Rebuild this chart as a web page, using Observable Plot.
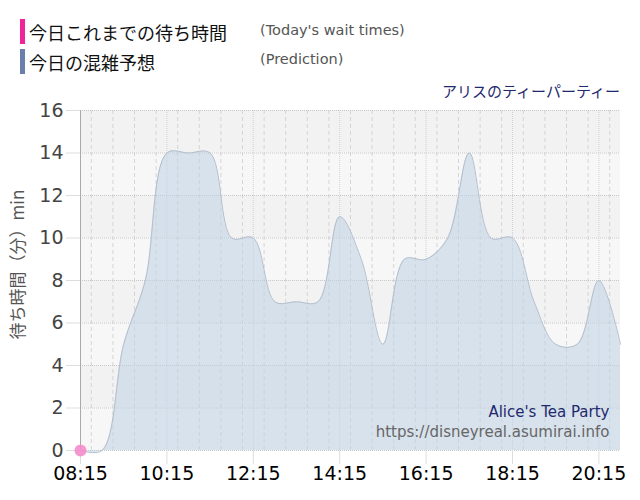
<!DOCTYPE html>
<html>
<head>
<meta charset="utf-8">
<script src="https://cdn.jsdelivr.net/npm/d3@7"></script>
<script src="https://cdn.jsdelivr.net/npm/@observablehq/plot@0.6"></script>
<style>
  html, body { margin: 0; padding: 0; background: #fff; }
  #wrap { position: relative; width: 640px; height: 500px; font-family: "DejaVu Sans", "Noto Sans CJK JP", sans-serif; }
  .leg { position: absolute; left: 20px; height: 25px; display: flex; align-items: center; }
  .bar { width: 5px; height: 25px; margin-right: 4px; }
  .jp { font-family: "Noto Sans CJK JP", sans-serif; font-size: 18px; color: #111; }
  .en { position: absolute; left: 260px; font-size: 14.5px; color: #555; }
  #sub { position: absolute; right: 20px; top: 80px; font-family: "Noto Sans CJK JP", sans-serif; font-size: 15px; color: #1f2a6e; }
  #chart { position: absolute; left: 0; top: 0; }
</style>
</head>
<body>
<div id="wrap">
  <div id="chart"></div>
  <div class="leg" style="top:19px"><div class="bar" style="background:#f0249a"></div><span class="jp">今日これまでの待ち時間</span></div>
  <div class="en" style="top:22px">(Today's wait times)</div>
  <div class="leg" style="top:49px"><div class="bar" style="background:#6a7fab"></div><span class="jp">今日の混雑予想</span></div>
  <div class="en" style="top:51px">(Prediction)</div>
  <div id="sub">アリスのティーパーティー</div>
</div>
<script>
const predTimes = ["08:15","08:45","09:15","09:45","10:15","10:45","11:15","11:45","12:15","12:45","13:15","13:45","14:15","14:45","15:15","15:45","16:15","16:45","17:15","17:45","18:15","18:45","19:15","19:45","20:15","20:45"];
const predValues = [0,0,5,8,14,14,14,10,10,7,7,7,11,9,5,9,9,10,14,10,10,7,5,5,8,5];
const todayTimes = ["08:15"];
const todayValues = [0];
const xTickLabels = ["08:15","10:15","12:15","14:15","16:15","18:15","20:15"];
const yTicks = [0,2,4,6,8,10,12,14,16];
const bandStarts = [0,2,4,6,8,10,12,14];
const domainTimes = ["08:15","20:45"];
const attraction = "Alice's Tea Party";
const site = "https://disneyreal.asumirai.info";

const t = s => { const [h,m] = s.split(":").map(Number); return new Date(Date.UTC(2024,0,1,h,m)); };
const pred = predTimes.map((s,i) => ({x: t(s), y: predValues[i]}));
const today = todayTimes.map((s,i) => ({x: t(s), y: todayValues[i]}));
const bands = bandStarts.map((v,i) => ({y1: v, y2: v + 2, fill: i % 2 === 0 ? "#f7f7f7" : "#f2f2f2"}));
const halfHours = d3.utcMinute.every(30).range(t("08:15"), new Date(+t("20:45") + 1));
const xTicks = xTickLabels.map(t);

const chart = Plot.plot({
  width: 640,
  height: 500,
  marginTop: 110,
  marginBottom: 50,
  marginLeft: 80,
  marginRight: 20,
  style: {fontFamily: "DejaVu Sans, Noto Sans CJK JP, sans-serif", background: "transparent"},
  x: {type: "utc", domain: domainTimes.map(t)},
  y: {domain: [0, 16]},
  marks: [
    Plot.rect(bands, {y1: "y1", y2: "y2", fill: "fill"}),
    Plot.ruleX(halfHours, {stroke: "#d4d4d4", strokeDasharray: "4,3"}),
    Plot.ruleX(xTicks, {stroke: "#c9d3de", strokeDasharray: "1,1"}),
    Plot.ruleY(yTicks, {stroke: "#c8c8c8", strokeDasharray: "1,1"}),
    Plot.areaY(pred, {x: "x", y: "y", curve: "catmull-rom", fill: "#c0d2e4", fillOpacity: 0.55}),
    Plot.lineY(pred, {x: "x", y: "y", curve: "catmull-rom", stroke: "#b4bfcc", strokeWidth: 1}),
    Plot.frame({anchor: "left", stroke: "#aaaaaa"}),
    Plot.axisY({ticks: yTicks, tickSize: 14, tickPadding: 3, fontSize: 19, stroke: "#dddddd", color: "#444", label: null}),
    Plot.axisX({ticks: xTicks, tickFormat: d3.utcFormat("%H:%M"), tickSize: 14, tickPadding: 2, fontSize: 19, stroke: "#dddddd", color: "#000", label: null}),
    Plot.text(["待ち時間（分）min"], {frameAnchor: "left", textAnchor: "middle", rotate: -90, dx: -62, dy: -16, fontSize: 17, fill: "#555", fontFamily: "Noto Sans CJK JP, sans-serif"}),
    Plot.dot(today, {x: "x", y: "y", r: 6, fill: "#f48ccb", fillOpacity: 0.9}),
    Plot.text([attraction], {frameAnchor: "bottom-right", dx: -11, dy: -34, fontSize: 15, fill: "#1f2a6e", textAnchor: "end"}),
    Plot.text([site], {frameAnchor: "bottom-right", dx: -11, dy: -14, fontSize: 15, fill: "#666", textAnchor: "end"})
  ]
});
document.getElementById("chart").appendChild(chart);
</script>
</body>
</html>
